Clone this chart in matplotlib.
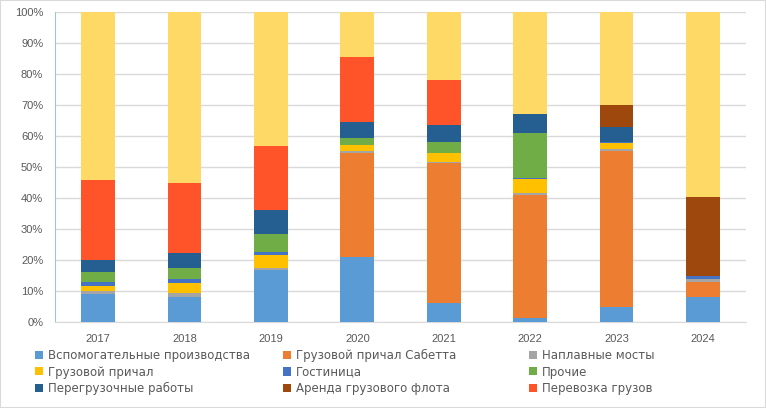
import matplotlib
matplotlib.use("Agg")
import matplotlib.pyplot as plt
import numpy as np
from matplotlib.patches import Rectangle

years = ["2017", "2018", "2019", "2020", "2021", "2022", "2023", "2024"]
vspom = [8.9, 8.2, 16.8, 21.0, 6.1, 1.3, 4.8, 8.2]
sabetta = [0, 0, 0, 33.6, 45.1, 39.8, 50.4, 4.7]
naplav = [1.1, 1.0, 0.5, 0.5, 0.5, 0.6, 0.6, 1.1]
gruz_prichal = [1.7, 3.5, 4.2, 2.0, 2.8, 4.3, 1.8, 0]
gostin = [1.3, 1.1, 1.0, 0.1, 0.1, 0.3, 0.4, 0.8]
prochie = [3.2, 3.5, 6.0, 2.3, 3.6, 14.8, 0, 0]
peregruz = [3.8, 5.0, 7.6, 5.1, 5.2, 6.1, 4.8, 0]
arenda = [0, 0, 0, 0, 0, 0, 7.3, 25.6]
perevozka = [25.8, 22.4, 20.8, 21.0, 14.8, 0, 0, 0]
other_top = [54.2, 55.3, 43.1, 14.4, 21.8, 32.8, 29.9, 59.6]

names = ["Вспомогательные производства", "Грузовой причал Сабетта", "Наплавные мосты",
         "Грузовой причал", "Гостиница", "Прочие",
         "Перегрузочные работы", "Аренда грузового флота", "Перевозка грузов"]
series = [vspom, sabetta, naplav, gruz_prichal, gostin, prochie, peregruz, arenda, perevozka]
colors = ["#5B9BD5", "#ED7D31", "#A5A5A5", "#FFC000", "#4472C4", "#70AD47",
          "#255E91", "#9E480E", "#FF5329"]
top_color = "#FFD966"

plt.rcParams['font.family'] = ['Liberation Sans', 'DejaVu Sans']
fig = plt.figure(figsize=(7.66, 4.08), dpi=100)
ax = fig.add_axes([55/766, 1-322/408, (746-55)/766, 310/408])

x = np.arange(len(years))
data = np.array(series + [other_top], dtype=float)
totals = data.sum(axis=0)
pct = data / totals * 100
bottom = np.zeros(len(years))
handles = []
for i in range(len(series)):
    h = ax.bar(x, pct[i], 0.39, bottom=bottom, color=colors[i], label=names[i], zorder=3)
    handles.append(h)
    bottom += pct[i]
ax.bar(x, pct[-1], 0.39, bottom=bottom, color=top_color, zorder=3)

ax.set_xlim(-0.5, len(years) - 0.5)
ax.set_ylim(0, 100)
ax.set_yticks(np.arange(0, 101, 10))
ax.set_yticklabels([f"{v}%" for v in range(0, 101, 10)])
ax.set_xticks(x)
ax.set_xticklabels(years)
ax.tick_params(axis='both', length=0, labelsize=8, colors="#595959")
ax.tick_params(axis='x', pad=9)
ax.tick_params(axis='y', pad=8.5)
ax.grid(axis='y', color="#D9D9D9", linewidth=1, zorder=0)
for s in ["top", "right"]:
    ax.spines[s].set_visible(False)
ax.spines["bottom"].set_color("#D9D9D9")
ax.spines["left"].set_color("#9DC3E6")

# legend: three columns placed at reference positions, filled row-wise
col_x = [35, 283, 529]
for c in range(3):
    idx = [c, c + 3, c + 6]
    leg = fig.legend([handles[i] for i in idx], [names[i] for i in idx],
                     loc="upper left", bbox_to_anchor=(col_x[c]/766, 1-349/408),
                     frameon=False, prop={'family': 'DejaVu Sans', 'size': 8.5},
                     handlelength=0.68, handleheight=0.68,
                     handletextpad=0.42, labelspacing=0.3,
                     borderaxespad=0, borderpad=0)
    for t in leg.get_texts():
        t.set_color("#595959")

fig.patches.append(Rectangle((0, 0), 1, 1, transform=fig.transFigure, fill=False,
                             edgecolor="#D9D9D9", linewidth=1.5))
fig.savefig("out.png", dpi=100)
